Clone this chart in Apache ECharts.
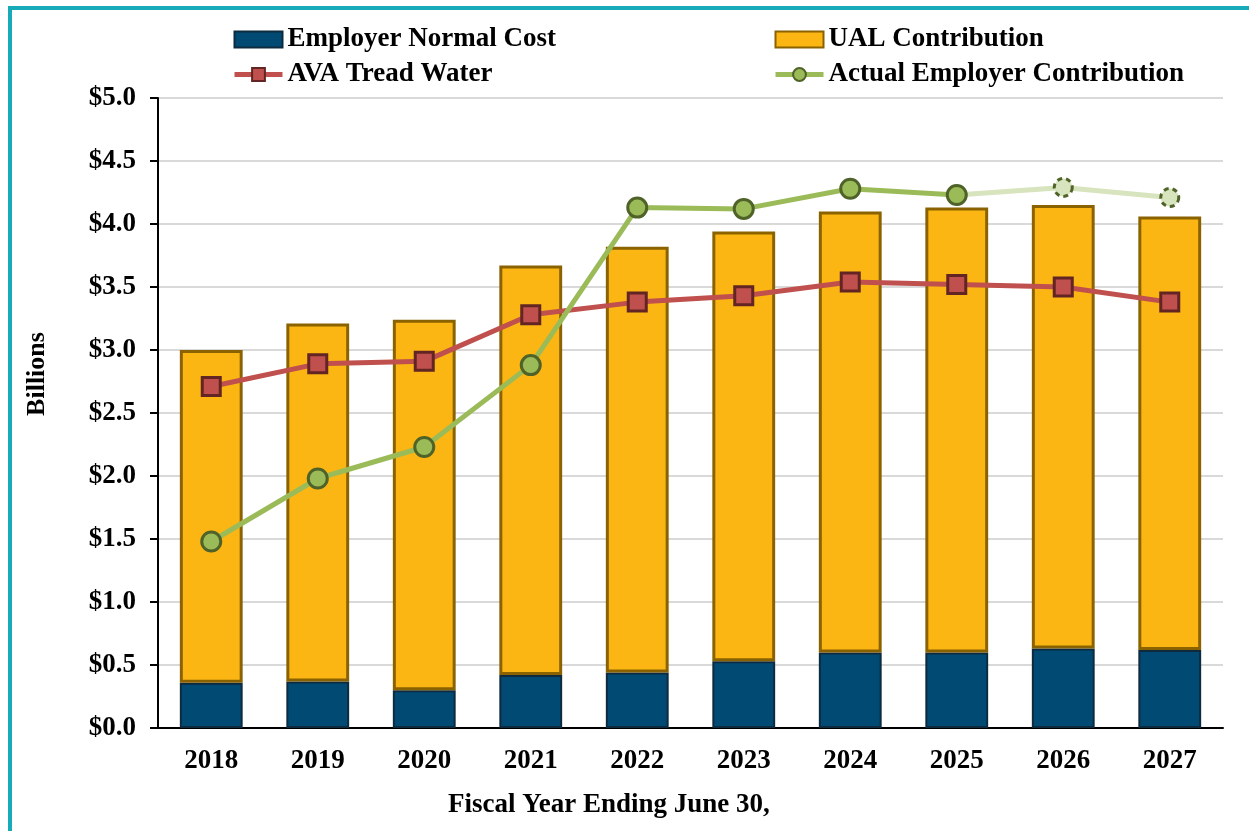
<!DOCTYPE html>
<html>
<head>
<meta charset="utf-8">
<script src="https://cdn.jsdelivr.net/npm/echarts@6/dist/echarts.min.js"></script>
<style>
  html, body { margin: 0; padding: 0; background: #fff; }
  #frame { position: absolute; left: 8px; top: 6px; width: 1245px; height: 840px; border: 4px solid #17AAB8; box-sizing: border-box; }
  #chart { position: absolute; left: 0; top: 0; width: 1249px; height: 831px; }
</style>
</head>
<body>
<div id="frame"></div>
<div id="chart"></div>
<script>
// fiscal years
const years = ['2018', '2019', '2020', '2021', '2022', '2023', '2024', '2025', '2026', '2027'];
// billions
const normalCost = [0.36, 0.37, 0.30, 0.42, 0.44, 0.53, 0.60, 0.60, 0.63, 0.62];
const ualContribution = [2.64, 2.84, 2.94, 3.25, 3.38, 3.41, 3.50, 3.53, 3.52, 3.44];
const avaTreadWater = [2.71, 2.89, 2.91, 3.28, 3.38, 3.43, 3.54, 3.52, 3.50, 3.38];
const actualContribution = [1.48, 1.98, 2.23, 2.88, 4.13, 4.12, 4.28, 4.23, null, null];
// projected years of the actual contribution (drawn lighter)
const projectedContribution = [null, null, null, null, null, null, null, 4.23, 4.29, 4.21];

const font = 'Liberation Serif';
const chart = echarts.init(document.getElementById('chart'));

const legendText = { fontFamily: font, fontWeight: 'bold', fontSize: 27, color: '#000' };

const option = {
  animation: false,
  grid: { left: 158, right: 26, top: 98, bottom: 103 },
  legend: [
    {
      left: 227, top: 21, orient: 'vertical', itemGap: 8,
      itemWidth: 48, itemHeight: 16,
      textStyle: legendText,
      data: [
        { name: 'Employer Normal Cost', icon: 'rect' },
        { name: 'AVA Tread Water', lineStyle: { width: 5 } }
      ]
    },
    {
      left: 768, top: 21, orient: 'vertical', itemGap: 8,
      itemWidth: 48, itemHeight: 16,
      textStyle: legendText,
      data: [
        { name: 'UAL Contribution', icon: 'rect' },
        { name: 'Actual Employer Contribution', lineStyle: { width: 5 } }
      ]
    }
  ],
  xAxis: {
    type: 'category',
    data: years,
    axisLine: { lineStyle: { color: '#000', width: 2 } },
    axisTick: { length: 8, lineStyle: { color: '#000', width: 2 } },
    axisLabel: { margin: 20, fontFamily: font, fontWeight: 'bold', fontSize: 27, color: '#000' }
  },
  yAxis: {
    type: 'value',
    min: 0, max: 5, interval: 0.5,
    axisLine: { show: true, lineStyle: { color: '#000', width: 2 } },
    axisTick: { show: true, length: 8, lineStyle: { color: '#000', width: 2 } },
    splitLine: { lineStyle: { color: '#d9d9d9', width: 2 } },
    axisLabel: {
      margin: 22, fontFamily: font, fontWeight: 'bold', fontSize: 27, color: '#000',
      formatter: v => '$' + v.toFixed(1)
    }
  },
  graphic: [
    {
      type: 'text', x: 37, y: 374, rotation: Math.PI / 2,
      style: { text: 'Billions', fontFamily: font, fontWeight: 'bold', fontSize: 26, fill: '#000', align: 'center', verticalAlign: 'middle' }
    },
    {
      type: 'text', left: 448, top: 792,
      style: { text: 'Fiscal Year Ending June 30,', fontFamily: font, fontWeight: 'bold', fontSize: 27, fill: '#000' }
    }
  ],
  series: [
    {
      name: 'Employer Normal Cost', type: 'bar', stack: 'total', barWidth: '59%',
      data: normalCost,
      itemStyle: { color: '#004A74', borderColor: '#0E2A3E', borderWidth: 2 }
    },
    {
      name: 'UAL Contribution', type: 'bar', stack: 'total',
      data: ualContribution,
      itemStyle: { color: '#FBB614', borderColor: '#8A6300', borderWidth: 3 }
    },
    {
      name: 'AVA Tread Water', type: 'line', data: avaTreadWater,
      symbol: 'rect', symbolSize: 18,
      lineStyle: { color: '#C0504D', width: 5 },
      itemStyle: { color: '#C0504D', borderColor: '#632523', borderWidth: 3 },
      z: 5
    },
    {
      name: 'Projected Employer Contribution', type: 'line', data: projectedContribution,
      symbol: 'circle', symbolSize: 18,
      lineStyle: { color: '#D7E4BD', width: 5 },
      itemStyle: { color: '#D7E4BD', borderColor: '#4F6228', borderWidth: 3, borderType: [5, 4] },
      z: 5
    },
    {
      name: 'Actual Employer Contribution', type: 'line', data: actualContribution,
      symbol: 'circle', symbolSize: 19,
      lineStyle: { color: '#9BBB59', width: 5 },
      itemStyle: { color: '#9BBB59', borderColor: '#4F6228', borderWidth: 3 },
      z: 6
    }
  ]
};

chart.setOption(option);
</script>
</body>
</html>
